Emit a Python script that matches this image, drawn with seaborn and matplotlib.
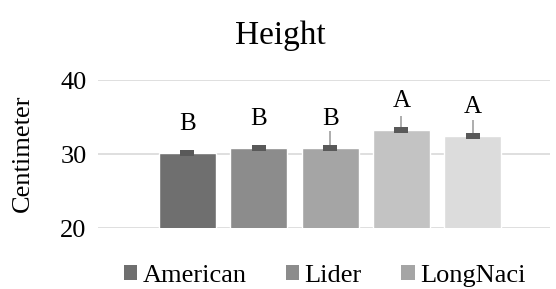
import numpy as np
import pandas as pd
import seaborn as sns
import matplotlib.pyplot as plt
from matplotlib.path import Path
from matplotlib.patches import Patch

# data
varieties = ['American', 'Lider', 'LongNaci', 'Series4', 'Series5']
heights = [30.1, 30.8, 30.8, 33.2, 32.4]
errors = [0.2, 0.2, 2.3, 1.9, 2.2]
letters = ['B', 'B', 'B', 'A', 'A']
colors = ['#6f6f6f', '#8c8c8c', '#a5a5a5', '#c3c3c3', '#dcdcdc']

SERIF = 'Liberation Serif'

sns.set_theme(style='white')
plt.rcParams['font.family'] = [SERIF, 'DejaVu Serif']
plt.rcParams['text.color'] = 'black'
plt.rcParams['ytick.color'] = 'black'

df = pd.DataFrame({'Variety': varieties, 'Height': heights})

fig = plt.figure(figsize=(5.56, 2.89), dpi=100)
ax = fig.add_axes([0.176, 0.211, 0.813, 0.512])

sns.barplot(data=df, x='Variety', y='Height', hue='Variety', palette=colors,
            width=0.8, legend=False, ax=ax, zorder=2)

# plus-only error bars with a dark box at the mean
x = np.arange(len(varieties))
ax.errorbar(x, heights, yerr=[np.zeros(len(errors)), errors], fmt='none',
            ecolor='#a0a0a0', elinewidth=1.2, zorder=3)
box = Path([(-1, -0.5), (1, -0.5), (1, 0.5), (-1, 0.5), (-1, -0.5)],
           [Path.MOVETO, Path.LINETO, Path.LINETO, Path.LINETO, Path.CLOSEPOLY])
ax.scatter(x, heights, marker=box, s=100, color='#595959', zorder=4, linewidths=0)

for xi, h, lab in zip(x, heights, letters):
    ax.text(xi, h + 4.0, lab, ha='center', va='center', fontsize=18,
            color='black', family=SERIF)

ax.set_ylim(20, 40)
ax.set_yticks([20, 30, 40])
ax.set_yticklabels(['20', '30', '40'], family=SERIF, fontsize=19, color='black')
ax.set_xlim(-1.255, 5.08)
ax.set_xticks([])
ax.set_xlabel('')
ax.set_ylabel('')
ax.tick_params(axis='y', length=0, pad=8)
ax.grid(axis='y', color='#d9d9d9', linewidth=1.2, zorder=0)
ax.set_axisbelow(True)
for s in ax.spines.values():
    s.set_visible(False)

fig.text(0.041, 0.47, 'Centimeter', rotation=90, ha='center', va='center',
         fontsize=19, family=SERIF, color='black')
fig.text(0.505, 0.878, 'Height', ha='center', va='center', fontsize=24,
         family=SERIF, color='black')

handles = [Patch(facecolor=c, edgecolor='none') for c in colors[:3]]
leg = fig.legend(handles, varieties[:3], loc='center', bbox_to_anchor=(0.584, 0.045),
                 ncol=3, frameon=False, prop={'family': SERIF, 'size': 19},
                 handlelength=0.5, handleheight=0.5,
                 handletextpad=0.2, columnspacing=1.5, borderaxespad=0)
for t in leg.get_texts():
    t.set_color('black')

fig.savefig('out.png', dpi=100)
